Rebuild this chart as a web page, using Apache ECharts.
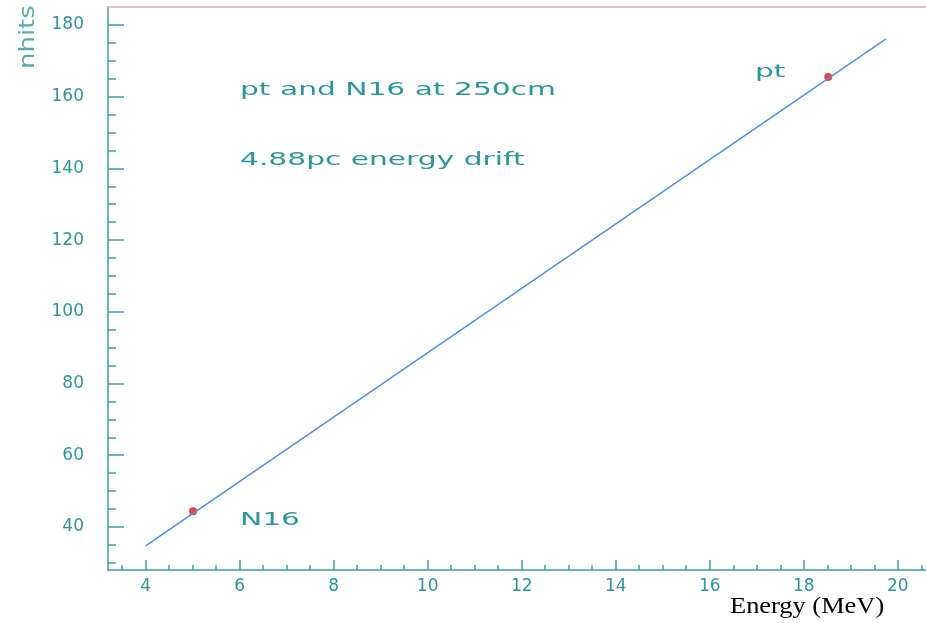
<!DOCTYPE html>
<html>
<head>
<meta charset="utf-8">
<script src="https://cdn.jsdelivr.net/npm/echarts@6/dist/echarts.min.js"></script>
<style>
  html, body { margin: 0; padding: 0; background: #fff; }
  #chart { width: 926px; height: 623px; }
</style>
</head>
<body>
<div id="chart"></div>
<script>
// nhits vs energy: pt and N16 at 250cm, linear fit through both sources

const xMajorTicks = [4, 6, 8, 10, 12, 14, 16, 18, 20];
const yMajorTicks = [40, 60, 80, 100, 120, 140, 160, 180];

// minor ticks: every 0.5 MeV on x, every 5 hits on y
const xMinorTicks = [];
for (let v = 3.5; v <= 20.5; v += 0.5) if (xMajorTicks.indexOf(v) < 0) xMinorTicks.push(v);
const yMinorTicks = [];
for (let v = 30; v <= 180; v += 5) if (yMajorTicks.indexOf(v) < 0) yMinorTicks.push(v);

// fitted line (end points)
const fitLine = [[4.0, 34.7], [19.75, 176.1]];

// the two calibration sources
const sourceNames = ['N16', 'pt'];
const sourcePoints = [[5.01, 44.4], [18.52, 165.5]];

const TEAL = '#2a9797';
const AXIS = '#3a9ea0';
const FONT = 'DejaVu Sans';

const chart = echarts.init(document.getElementById('chart'));

const gridBox = { left: 108, right: 0, top: 7, bottom: 53 };

chart.setOption({
  animation: false,
  backgroundColor: '#fff',
  grid: [Object.assign({}, gridBox), Object.assign({}, gridBox)],
  xAxis: [
    {
      gridIndex: 0, type: 'value', position: 'bottom', min: 3.2, max: 20.6,
      axisLine: { lineStyle: { color: AXIS, width: 1.5 } },
      axisTick: { inside: true, length: 10, customValues: xMajorTicks, lineStyle: { color: AXIS, width: 1.5 } },
      axisLabel: { customValues: xMajorTicks, margin: 8, color: TEAL, fontFamily: FONT, fontSize: 17 },
      splitLine: { show: false }
    },
    {
      gridIndex: 0, type: 'value', position: 'top', min: 3.2, max: 20.6,
      axisLine: { lineStyle: { color: '#e6a8b0', width: 1.5 } },
      axisTick: { show: false }, axisLabel: { show: false }, splitLine: { show: false }
    },
    {
      gridIndex: 1, type: 'value', position: 'bottom', min: 3.2, max: 20.6,
      axisLine: { show: false },
      axisTick: { inside: true, length: 5, customValues: xMinorTicks, lineStyle: { color: AXIS, width: 1.5 } },
      axisLabel: { show: false }, splitLine: { show: false }
    }
  ],
  yAxis: [
    {
      gridIndex: 0, type: 'value', position: 'left', min: 28, max: 185,
      axisLine: { show: true, lineStyle: { color: AXIS, width: 1.5 } },
      axisTick: { show: true, inside: true, length: 16, customValues: yMajorTicks, lineStyle: { color: AXIS, width: 1.5 } },
      axisLabel: { customValues: yMajorTicks, margin: 24, color: TEAL, fontFamily: FONT, fontSize: 17 },
      splitLine: { show: false }
    },
    {
      gridIndex: 1, type: 'value', position: 'left', min: 28, max: 185,
      axisLine: { show: false },
      axisTick: { show: true, inside: true, length: 8, customValues: yMinorTicks, lineStyle: { color: AXIS, width: 1.5 } },
      axisLabel: { show: false }, splitLine: { show: false }
    }
  ],
  series: [
    {
      type: 'line', xAxisIndex: 0, yAxisIndex: 0,
      data: fitLine, showSymbol: false,
      lineStyle: { color: '#4a90e8', width: 1.5 }
    },
    {
      type: 'scatter', xAxisIndex: 0, yAxisIndex: 0,
      data: sourcePoints.map((p, i) => ({ name: sourceNames[i], value: p })),
      symbol: 'circle', symbolSize: 8,
      itemStyle: { color: '#f01010' }
    }
  ],
  graphic: [
    { type: 'text', x: 240, y: 90, scaleX: 1.65,
      style: { text: 'pt and N16 at 250cm', fill: TEAL, font: '18px "DejaVu Sans"', textAlign: 'left', textVerticalAlign: 'middle' } },
    { type: 'text', x: 240, y: 160, scaleX: 1.65,
      style: { text: '4.88pc energy drift', fill: TEAL, font: '18px "DejaVu Sans"', textAlign: 'left', textVerticalAlign: 'middle' } },
    { type: 'text', x: 755, y: 72, scaleX: 1.65,
      style: { text: sourceNames[1], fill: TEAL, font: '18px "DejaVu Sans"', textAlign: 'left', textVerticalAlign: 'middle' } },
    { type: 'text', x: 240, y: 520, scaleX: 1.65,
      style: { text: sourceNames[0], fill: TEAL, font: '18px "DejaVu Sans"', textAlign: 'left', textVerticalAlign: 'middle' } },
    { type: 'text', x: 28, y: 69, rotation: Math.PI / 2, scaleX: 1.18,
      style: { text: 'nhits', fill: '#5aacac', font: '22px "DejaVu Sans"', textAlign: 'left', textVerticalAlign: 'middle' } },
    { type: 'text', x: 730, y: 607, scaleX: 1.1,
      style: { text: 'Energy (MeV)', fill: '#000', font: '24px "Liberation Serif"', textAlign: 'left', textVerticalAlign: 'middle' } }
  ]
});
</script>
</body>
</html>
